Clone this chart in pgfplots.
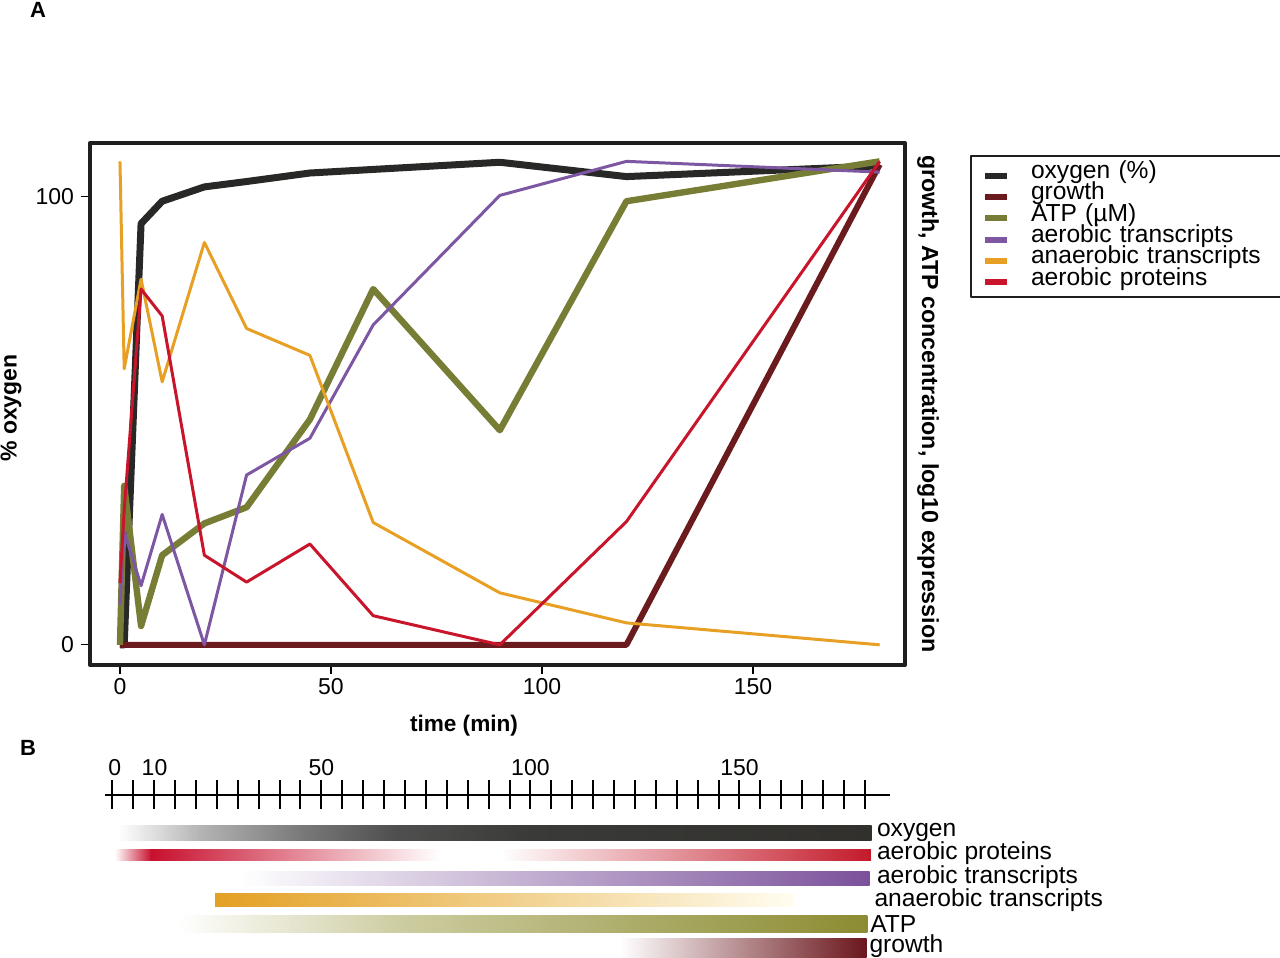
\documentclass[border=0pt]{standalone}
\usepackage{pgfplots}
\pgfplotsset{compat=1.18}
\usepackage{fontspec}
\setmainfont{Liberation Sans}
\definecolor{cOxy}{HTML}{282826}
\definecolor{cGro}{HTML}{6B1A1E}
\definecolor{cAtp}{HTML}{787D35}
\definecolor{cPur}{HTML}{7E57A3}
\definecolor{cOra}{HTML}{E7A023}
\definecolor{cRed}{HTML}{C8152B}
\definecolor{bRed}{HTML}{C8102E}
\definecolor{bRed2}{HTML}{C41A2A}
\definecolor{bPur}{HTML}{7B519B}
\definecolor{bOra}{HTML}{E3A023}
\definecolor{bOraE}{HTML}{FFFDF0}
\definecolor{bAtpM}{HTML}{CCCCA0}
\definecolor{bAtp}{HTML}{8C8C33}
\definecolor{bGro}{HTML}{6A161C}
\definecolor{gA}{HTML}{B4B4B4}
\definecolor{gB}{HTML}{7A7A7A}
\definecolor{gC}{HTML}{505050}
\definecolor{gD}{HTML}{3A3A38}
\definecolor{gE}{HTML}{31302D}
\begin{document}
\begin{tikzpicture}
\useasboundingbox (0,0) rectangle (640pt,479pt);
% ---------------- Panel A ----------------
\begin{axis}[
  at={(45pt,146.5pt)}, anchor=south west, scale only axis,
  width=407.5pt, height=261pt,
  xmin=-7.1, xmax=186, ymin=-4.5, ymax=112,
  axis line style={line width=2pt, color=black!88},
  xtick={0,50,100,150}, ytick={0,100},
  tick pos=left, tick align=outside, major tick length=4.5pt,
  tick style={line width=0.6pt, black},
  /pgf/number format/assume math mode=true,
  ticklabel style={font=\fontsize{11.5}{13}\selectfont},
  xticklabel style={yshift=1.5pt},
  legend style={at={(1,1)}, anchor=north west, xshift=32.5pt, yshift=-6pt,
    draw=black!88, line width=1pt, inner xsep=5.5pt, inner ysep=3.25pt,
    font=\fontsize{12.3}{12}\selectfont, row sep=0pt, column sep=10.5pt,
    nodes={inner sep=0pt, text height=8pt, text depth=2.67pt, text width=121.5pt, align=left}},
  legend cell align=left,
  legend image code/.code={\draw[#1, line width=3pt, line cap=butt] (0pt,-1.2pt) -- (11pt,-1.2pt);},
  line join=round,
]
\addplot[cOxy, line width=3.5pt] coordinates {(0,0) (1,0) (5,94.0) (10,99.0) (20,102.2) (30,103.4) (45,105.3) (60,106.1) (90,107.7) (120,104.5) (180,106.9)};
\addlegendentry{oxygen (\%)}
\addplot[cGro, line width=3pt] coordinates {(0,0) (1,0) (5,0) (10,0) (20,0) (30,0) (45,0) (60,0) (90,0) (120,0) (180,107.2)};
\addlegendentry{growth}
\addplot[cAtp, line width=3.2pt] coordinates {(0,0) (1,35.5) (5,4.2) (10,20) (20,27.1) (30,30.7) (45,50.3) (60,79.4) (90,47.9) (120,99.0) (180,107.9)};
\addlegendentry{ATP (µM)}
\addplot[cPur, line width=1.5pt] coordinates {(0,8.9) (1,25.3) (5,13.2) (10,29.1) (20,0) (30,37.9) (45,46.1) (60,71.4) (90,100.3) (120,107.9) (180,105.5)};
\addlegendentry{aerobic transcripts}
\addplot[cOra, line width=1.5pt] coordinates {(0,107.9) (1,61.6) (5,81.6) (10,58.7) (20,89.8) (30,70.6) (45,64.6) (60,27.3) (90,11.6) (120,4.9) (180,0)};
\addlegendentry{anaerobic transcripts}
\addplot[cRed, line width=1.5pt] coordinates {(0,13.8) (1,30) (5,79.4) (10,73.4) (20,20.0) (30,14.0) (45,22.5) (60,6.5) (90,0) (120,27.5) (180,107.9)};
\addlegendentry{aerobic proteins}
\end{axis}
\node[font=\bfseries\fontsize{11.5}{13}\selectfont, rotate=90] at (5.5pt,275pt) {\% oxygen};
\node[font=\bfseries\fontsize{11.3}{13}\selectfont] at (232pt,116pt) {time (min)};
\node[font=\bfseries\fontsize{11.6}{13}\selectfont, rotate=-90] at (464pt,277pt) {growth, ATP concentration, log10 expression};
\node[font=\bfseries\fontsize{11}{13}\selectfont] at (19pt,474pt) {A};
\node[font=\bfseries\fontsize{11}{13}\selectfont] at (14pt,105pt) {B};
% ---------------- Panel B ----------------
\begin{axis}[
  at={(52.5pt,0pt)}, anchor=south west, scale only axis,
  width=392.5pt, height=109pt,
  xmin=-1.74, xmax=186, ymin=-958, ymax=-740,
  axis lines=none, clip=false,
]
\addplot[black, line width=1pt] coordinates {(-1.74,-795) (186,-795)};
\addplot[black, only marks, mark=|, mark size=7.25pt, mark options={line width=1pt}] coordinates {
(0,-795) (5,-795) (10,-795) (15,-795) (20,-795) (25,-795) (30,-795) (35,-795) (40,-795) (45,-795)
(50,-795) (55,-795) (60,-795) (65,-795) (70,-795) (75,-795) (80,-795) (85,-795) (90,-795) (95,-795)
(100,-795) (105,-795) (110,-795) (115,-795) (120,-795) (125,-795) (130,-795) (135,-795) (140,-795) (145,-795)
(150,-795) (155,-795) (160,-795) (165,-795) (170,-795) (175,-795) (180,-795)};
% oxygen bar
\addplot[draw=none, left color=white, right color=gA] coordinates {(1.4,-840.7) (21,-840.7) (21,-826) (1.4,-826)} -- cycle;
\addplot[draw=none, left color=gA, right color=gB] coordinates {(20.9,-840.7) (45,-840.7) (45,-826) (20.9,-826)} -- cycle;
\addplot[draw=none, left color=gB, right color=gC] coordinates {(44.9,-840.7) (67,-840.7) (67,-826) (44.9,-826)} -- cycle;
\addplot[draw=none, left color=gC, right color=gD] coordinates {(66.9,-840.7) (100,-840.7) (100,-826) (66.9,-826)} -- cycle;
\addplot[draw=none, left color=gD, right color=gE] coordinates {(99.9,-840.7) (181.6,-840.7) (181.6,-826) (99.9,-826)} -- cycle;
% aerobic proteins bar
\addplot[draw=none, left color=white, right color=bRed] coordinates {(0.6,-860.7) (9.4,-860.7) (9.4,-849.3) (0.6,-849.3)} -- cycle;
\addplot[draw=none, left color=bRed, right color=white] coordinates {(9.3,-860.7) (78.5,-860.7) (78.5,-849.3) (9.3,-849.3)} -- cycle;
\addplot[draw=none, left color=white, right color=bRed2] coordinates {(92.8,-860.7) (181.4,-860.7) (181.4,-849.3) (92.8,-849.3)} -- cycle;
% aerobic transcripts bar
\addplot[draw=none, left color=white, right color=bPur] coordinates {(30.6,-886) (181.1,-886) (181.1,-871.7) (30.6,-871.7)} -- cycle;
% anaerobic transcripts bar
\addplot[draw=none, left color=bOra, right color=bOraE] coordinates {(24.6,-906.7) (163,-906.7) (163,-894) (24.6,-894)} -- cycle;
% ATP bar
\addplot[draw=none, left color=white, right color=bAtpM] coordinates {(15.4,-932.3) (70,-932.3) (70,-916) (15.4,-916)} -- cycle;
\addplot[draw=none, left color=bAtpM, right color=bAtp] coordinates {(69.9,-932.3) (180.6,-932.3) (180.6,-916) (69.9,-916)} -- cycle;
% growth bar
\addplot[draw=none, left color=white, right color=bGro] coordinates {(121.4,-958) (180.4,-958) (180.4,-938.3) (121.4,-938.3)} -- cycle;
% tick labels of the timeline
\node[font=\fontsize{11.5}{12}\selectfont] at (axis cs:0.6,-768) {0};
\node[font=\fontsize{11.5}{12}\selectfont] at (axis cs:10.1,-768) {10};
\node[font=\fontsize{11.5}{12}\selectfont] at (axis cs:50,-768) {50};
\node[font=\fontsize{11.5}{12}\selectfont] at (axis cs:100,-768) {100};
\node[font=\fontsize{11.5}{12}\selectfont] at (axis cs:150,-768) {150};
% bar labels
\node[font=\fontsize{12.3}{13}\selectfont, anchor=base west, inner sep=0pt] at (axis cs:182.8,-836.7) {oxygen};
\node[font=\fontsize{12.3}{13}\selectfont, anchor=base west, inner sep=0pt] at (axis cs:182.8,-860) {aerobic proteins};
\node[font=\fontsize{12.3}{13}\selectfont, anchor=base west, inner sep=0pt] at (axis cs:182.8,-883.3) {aerobic transcripts};
\node[font=\fontsize{12.3}{13}\selectfont, anchor=base west, inner sep=0pt] at (axis cs:182.2,-906.7) {anaerobic transcripts};
\node[font=\fontsize{12.3}{13}\selectfont, anchor=base west, inner sep=0pt] at (axis cs:181.2,-932.7) {ATP};
\node[font=\fontsize{12.3}{13}\selectfont, anchor=base west, inner sep=0pt] at (axis cs:181.0,-952.7) {growth};
\end{axis}
\end{tikzpicture}
\end{document}
